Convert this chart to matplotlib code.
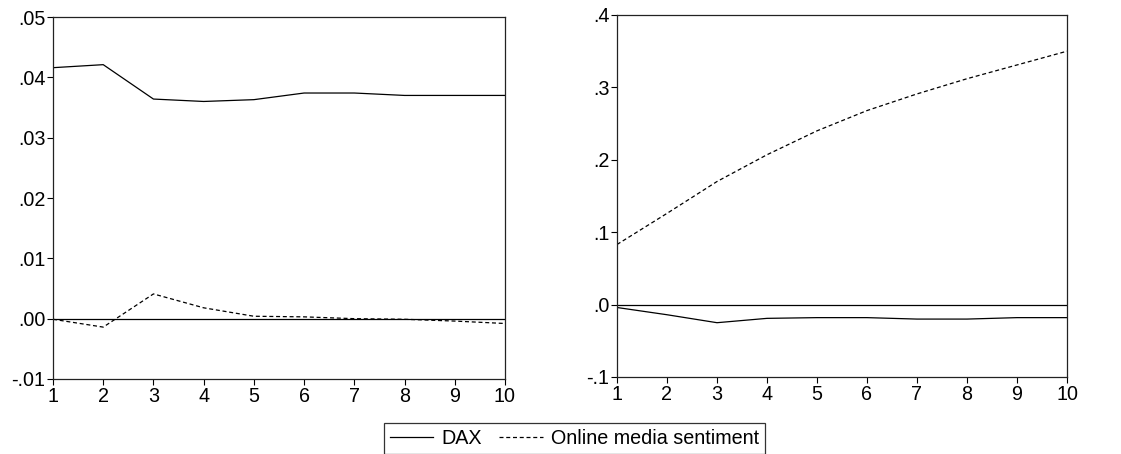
import matplotlib
matplotlib.use("Agg")
import matplotlib.pyplot as plt
from matplotlib.ticker import FuncFormatter
from matplotlib.lines import Line2D

plt.rcParams['font.family'] = ['Liberation Sans', 'DejaVu Sans']

periods = [1, 2, 3, 4, 5, 6, 7, 8, 9, 10]

# Left panel: response of DAX
left_dax = [0.0416, 0.0421, 0.0364, 0.0360, 0.0363, 0.0374, 0.0374, 0.0370, 0.0370, 0.0370]
left_sent = [-0.0001, -0.0014, 0.0041, 0.0018, 0.0004, 0.0003, 0.0000, -0.0001, -0.0004, -0.0008]

# Right panel: response of Online media sentiment
right_dax = [-0.004, -0.014, -0.025, -0.019, -0.018, -0.018, -0.020, -0.020, -0.018, -0.018]
right_sent = [0.083, 0.126, 0.170, 0.207, 0.240, 0.268, 0.291, 0.312, 0.331, 0.350]

left_yticks = [-0.01, 0.00, 0.01, 0.02, 0.03, 0.04, 0.05]
right_yticks = [-0.1, 0.0, 0.1, 0.2, 0.3, 0.4]

series_labels = ["DAX", "Online media sentiment"]

fig = plt.figure(figsize=(11.21, 4.54), dpi=100)

ax1 = fig.add_axes([53/1121, 1-379/454, (505-53)/1121, (379-17)/454])
ax2 = fig.add_axes([617/1121, 1-377/454, (1067-617)/1121, (377-15)/454])

dash = (3.2, 2.2)
fs = 14.2

def fmt(decimals):
    def f(v, pos):
        s = f"{v:.{decimals}f}"
        if s.startswith("0"):
            s = s[1:]
        elif s.startswith("-0"):
            s = "-" + s[2:]
        return s
    return FuncFormatter(f)

for ax, dax, sent, yt, dec in [(ax1, left_dax, left_sent, left_yticks, 2),
                                (ax2, right_dax, right_sent, right_yticks, 1)]:
    ax.axhline(0, color='black', lw=0.9)
    ax.plot(periods, dax, color='black', lw=0.9)
    ax.plot(periods, sent, color='black', lw=0.9, linestyle=(0, dash))
    ax.set_xlim(1, 10)
    ax.set_ylim(yt[0], yt[-1])
    ax.set_xticks(periods)
    ax.set_yticks(yt)
    ax.yaxis.set_major_formatter(fmt(dec))
    ax.tick_params(direction='out', length=4, width=0.8, labelsize=fs, pad=1.5, colors='black')
    for sp in ax.spines.values():
        sp.set_linewidth(0.9)
        sp.set_color('#222222')

handles = [Line2D([], [], color='black', lw=0.9),
           Line2D([], [], color='black', lw=0.9, linestyle=(0, dash))]
leg = fig.legend(handles, series_labels, loc='upper left',
                 bbox_to_anchor=(384/1121, 1-423/454), fontsize=fs,
                 frameon=True, fancybox=False, edgecolor='black',
                 ncol=2, handlelength=2.2, handletextpad=0.4, columnspacing=0.9,
                 borderpad=0.3, borderaxespad=0)
leg.get_frame().set_linewidth(0.9)

fig.savefig("out.png", dpi=100)
